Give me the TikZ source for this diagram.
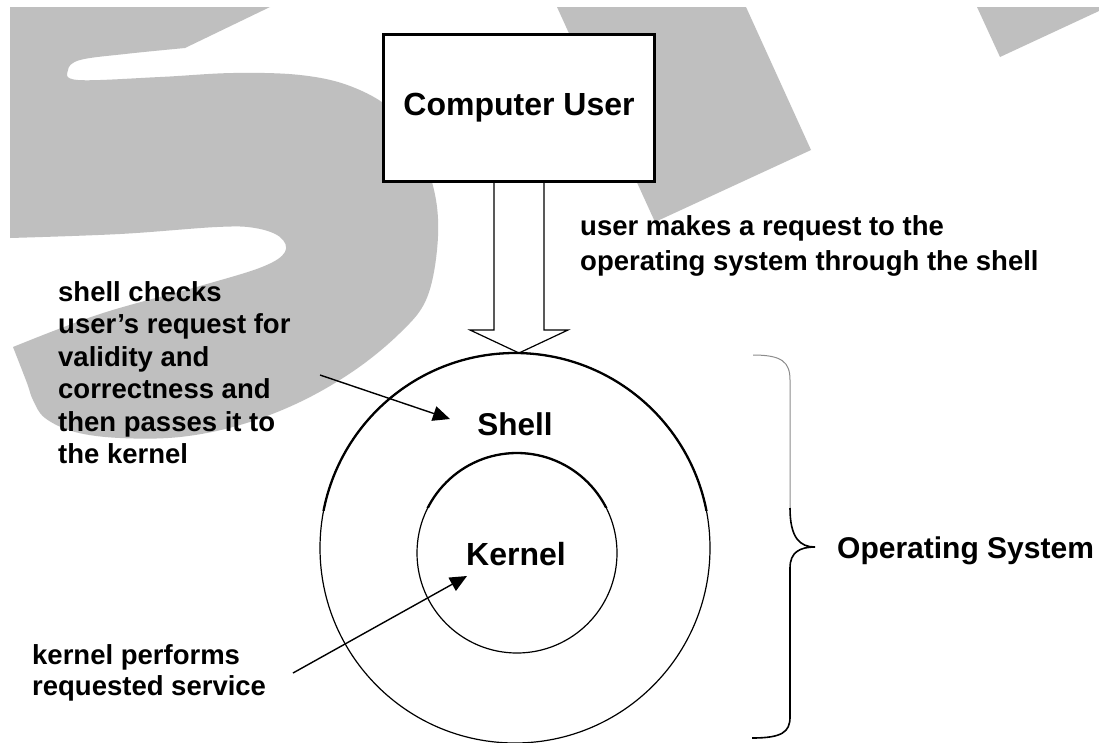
\documentclass[tikz,border=0pt]{standalone}
\usepackage{fontspec}
\setmainfont{Liberation Sans}
\usetikzlibrary{arrows.meta,calc}
\begin{document}
\begin{tikzpicture}[x=1pt,y=-1pt,
  wm/.style={fill=black!25},
  txt/.style={font=\bfseries\fontsize{27.5}{32.5}\selectfont, inner sep=0pt, align=left, anchor=north west},
  lbl/.style={font=\bfseries\fontsize{32}{38}\selectfont, inner sep=0pt, anchor=base},
  thinline/.style={line width=1.2pt},
  heavyline/.style={line width=2.3pt},
  pointer/.style={line width=1.4pt, -{Triangle[length=17pt,width=15pt]}},
]
\useasboundingbox (0,0) rectangle (1099,742);
\fill[white] (0,0) rectangle (1099,742);

% grey watermark letters in the background
\fill[wm] (10,7) -- (270,7) -- (185,48)
  -- plot[smooth, tension=0.6] coordinates {(185,48) (125,54) (80,60) (68,70) (78,80) (160,77) (233,73) (300,75) (350,86) (392,110) (420,150) (436,200) (437,250) (426,300) (400,333) (355,370) (300,402) (240,425) (180,437) (120,438) (75,432) (45,418) (33,400) (27,383) (13,347)}
  -- plot[smooth, tension=0.6] coordinates {(13,347) (100,314) (200,286) (262,267) (285,252) (280,237) (255,228) (217,227) (120,234) (10,238)}
  -- cycle;
\fill[wm] (557,7) -- (746,7) -- (811,150) -- (655,222) -- cycle;
\fill[wm] (977,7) -- (1099,7) -- (1099,11) -- (1000,57) -- cycle;

% user box
\node[draw, line width=3pt, fill=white, minimum width=271pt, minimum height=147pt,
      inner sep=0pt, font=\bfseries\fontsize{32}{38}\selectfont] (user) at (519,108) {Computer User};

% shell and kernel rings
\node[circle, draw, thinline, minimum size=390pt, inner sep=0pt] (shellring) at (515,548) {};
\node[circle, draw, thinline, minimum size=200pt, inner sep=0pt] (kernring) at (517,553) {};
\begin{scope}
  \clip (0,0) rectangle (1099,510);
  \draw[heavyline] (shellring.center) circle (195pt);
\end{scope}
\begin{scope}
  \clip (0,0) rectangle (1099,507);
  \draw[heavyline] (kernring.center) circle (100pt);
\end{scope}

% hollow request arrow from the user to the shell
\coordinate (tip) at ($(user.south)+(0,170)$);
\draw[thinline, line join=miter] ($(user.south)+(-25,0)$) -- ++(0,147) -- ++(-24,0) -- (tip)
  -- ++(49,-23) -- ++(-24,0) -- ++(0,-147);

% labels inside the rings
\node[lbl, font=\bfseries\fontsize{31.5}{38}\selectfont] (shelllbl) at (515,435) {Shell};
\node[lbl] (kernlbl) at (516,565) {Kernel};

% explanatory texts
\node[txt, font=\bfseries\fontsize{27.5}{35}\selectfont] (reqtxt) at (580,215.3)
  {user makes a request to the\\operating system through the shell};
\node[txt] (shelltxt) at (58,281.3)
  {shell checks\\user’s request for\\validity and\\correctness and\\then passes it to\\the kernel};
\node[txt, font=\bfseries\fontsize{27.5}{31}\selectfont] (kerntxt) at (32,644.3)
  {kernel performs\\requested service};

% pointers
\coordinate (shellsrc) at (320,375);
\coordinate (shellpt) at (450,419);
\coordinate (kernsrc) at (293,673);
\coordinate (kernpt) at (467,576);
\draw[pointer] (shellsrc) -- (shellpt);
\draw[pointer] (kernsrc) -- (kernpt);

% brace grouping shell and kernel
\draw[line width=1pt, black!45] (753,355) .. controls (782,355) and (790,362) .. (790,380) -- (790,510);
\draw[line width=1.6pt] (790,508) .. controls (790,538) and (800,547) .. (815,547)
  .. controls (800,547) and (790,552) .. (790,568) -- (790,717)
  .. controls (790,732) and (782,738) .. (752,738);
\node[font=\bfseries\fontsize{30}{36}\selectfont, inner sep=0pt, anchor=base west] (oslbl) at (837,558) {Operating System};
\end{tikzpicture}
\end{document}
